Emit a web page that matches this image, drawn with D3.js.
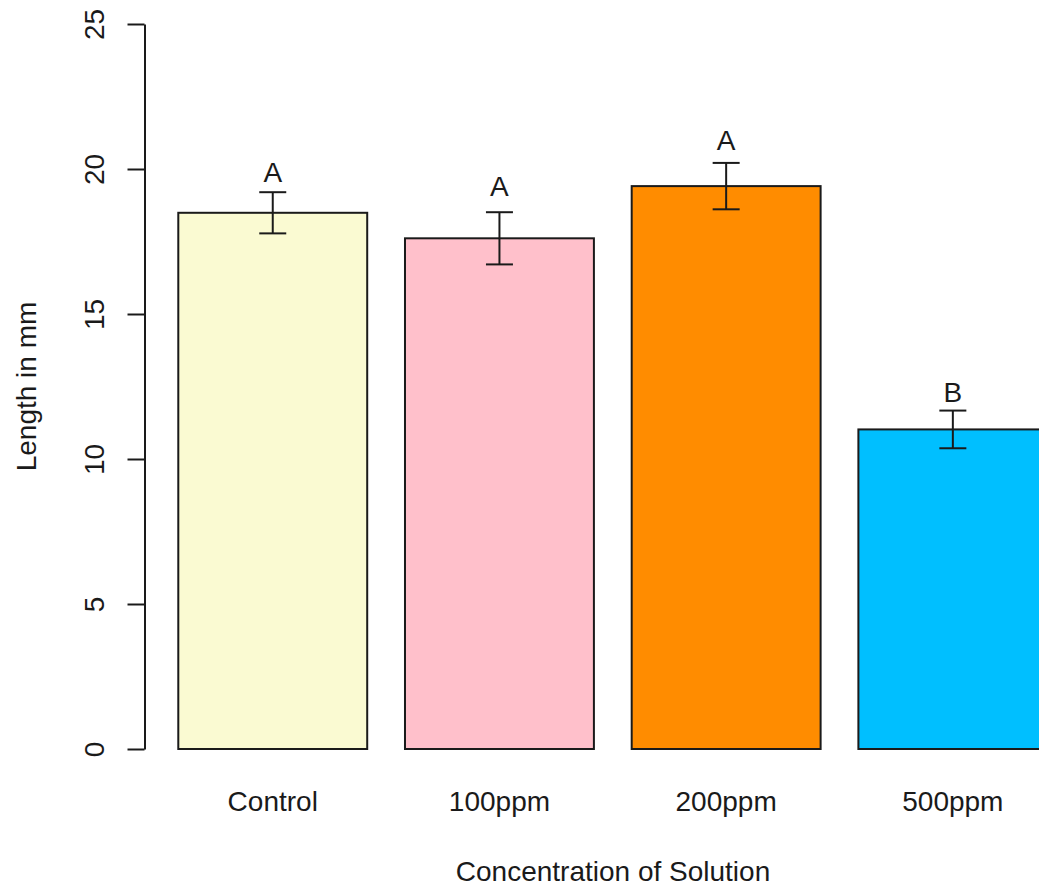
<!DOCTYPE html>
<html>
<head>
<meta charset="utf-8">
<script src="https://cdn.jsdelivr.net/npm/d3@7"></script>
<style>
  html, body { margin: 0; padding: 0; background: #fff; }
  svg { display: block; font-family: "Liberation Sans", Arial, sans-serif; }
</style>
</head>
<body>
<div id="chart"></div>
<script>
const categories = ["Control", "100ppm", "200ppm", "500ppm"];
const means = [18.49, 17.61, 19.41, 11.02];
const errors = [0.71, 0.9, 0.8, 0.65];
const letters = ["A", "A", "A", "B"];
const colors = ["#FAFAD2", "#FFC0CB", "#FF8C00", "#00BFFF"];
const yTicks = [0, 5, 10, 15, 20, 25];

const width = 1039, height = 888;
const fontSize = 28;
const ink = "#1a1a1a";

const svg = d3.select("#chart").append("svg")
  .attr("width", width).attr("height", height);

const y = d3.scaleLinear().domain([0, 25]).range([749, 24]);

// R barplot: space = 0.2 of bar width between bars
const x = d3.scaleBand()
  .domain(categories)
  .range([159.4, 159.4 + 906.8])
  .paddingInner(1 / 6)
  .paddingOuter(1 / 12);

// bars
svg.append("g")
  .selectAll("rect")
  .data(categories)
  .join("rect")
  .attr("x", d => x(d))
  .attr("y", (d, i) => y(means[i]))
  .attr("width", x.bandwidth())
  .attr("height", (d, i) => y(0) - y(means[i]))
  .attr("fill", (d, i) => colors[i])
  .attr("stroke", ink)
  .attr("stroke-width", 2);

// error bars
const capHalf = 13.5;
const eb = svg.append("g").attr("stroke", ink).attr("stroke-width", 2);
categories.forEach((c, i) => {
  const cx = x(c) + x.bandwidth() / 2;
  const hi = y(means[i] + errors[i]), lo = y(means[i] - errors[i]);
  eb.append("line").attr("x1", cx).attr("x2", cx).attr("y1", hi).attr("y2", lo);
  eb.append("line").attr("x1", cx - capHalf).attr("x2", cx + capHalf).attr("y1", hi).attr("y2", hi);
  eb.append("line").attr("x1", cx - capHalf).attr("x2", cx + capHalf).attr("y1", lo).attr("y2", lo);
});

// significance letters (at mean + 2*se, centred)
svg.append("g")
  .selectAll("text")
  .data(categories)
  .join("text")
  .attr("x", d => x(d) + x.bandwidth() / 2)
  .attr("y", (d, i) => y(means[i] + 2 * errors[i]))
  .attr("dy", "0.36em")
  .attr("text-anchor", "middle")
  .attr("font-size", fontSize)
  .attr("fill", ink)
  .text((d, i) => letters[i]);

// y axis
const yAxis = svg.append("g")
  .attr("transform", "translate(144.5,0)")
  .call(d3.axisLeft(y).tickValues(yTicks).tickSize(17).tickSizeOuter(0));
yAxis.select(".domain").attr("stroke", ink).attr("stroke-width", 2);
yAxis.selectAll(".tick line").attr("stroke", ink).attr("stroke-width", 2);
yAxis.selectAll(".tick text")
  .attr("transform", "rotate(-90)")
  .attr("x", 0).attr("y", -41).attr("dy", 0)
  .attr("text-anchor", "middle")
  .attr("font-size", fontSize)
  .attr("font-family", "Liberation Sans, Arial, sans-serif")
  .attr("fill", ink);

// category labels
svg.append("g")
  .selectAll("text")
  .data(categories)
  .join("text")
  .attr("x", d => x(d) + x.bandwidth() / 2)
  .attr("y", 811)
  .attr("text-anchor", "middle")
  .attr("font-size", fontSize)
  .attr("fill", ink)
  .text(d => d);

// axis titles
svg.append("text")
  .attr("x", 613).attr("y", 881)
  .attr("text-anchor", "middle")
  .attr("font-size", fontSize)
  .attr("fill", ink)
  .text("Concentration of Solution");

svg.append("text")
  .attr("transform", "translate(36,386.5) rotate(-90)")
  .attr("text-anchor", "middle")
  .attr("font-size", fontSize)
  .attr("fill", ink)
  .text("Length in mm");
</script>
</body>
</html>
